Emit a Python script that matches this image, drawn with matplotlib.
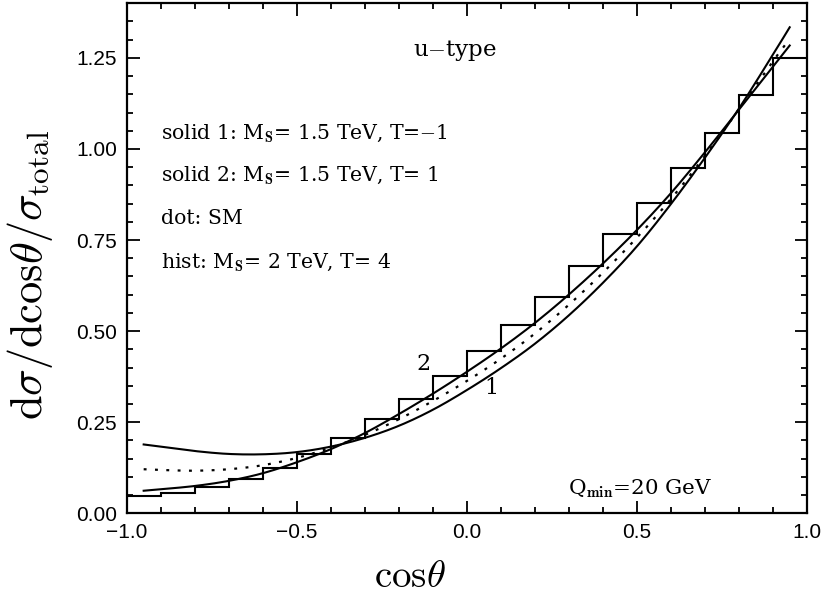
import numpy as np
import matplotlib
matplotlib.use("Agg")
import matplotlib.pyplot as plt
from matplotlib.ticker import MultipleLocator, FuncFormatter

plt.rcParams['mathtext.fontset'] = 'cm'

# histogram: M_S = 2 TeV, T = 4 (bins of 0.1 in cos theta)
hist_edges = np.round(np.arange(-1.0, 1.0001, 0.1), 2)
hist_vals = [0.048, 0.056, 0.073, 0.094, 0.125, 0.164, 0.207, 0.260,
             0.313, 0.376, 0.446, 0.517, 0.595, 0.678, 0.766, 0.852,
             0.948, 1.045, 1.149, 1.250]

# curves
cos_pts = [-0.95, -0.9, -0.8, -0.7, -0.6, -0.5, -0.4, -0.3, -0.2, -0.1,
           0.0, 0.1, 0.2, 0.3, 0.4, 0.5, 0.6, 0.7, 0.8, 0.9, 0.95]
solid1 = [0.189, 0.183, 0.171, 0.163, 0.162, 0.168, 0.183, 0.207, 0.240, 0.284,
          0.338, 0.398, 0.465, 0.543, 0.632, 0.732, 0.848, 0.975, 1.110, 1.258, 1.334]
solid2 = [0.062, 0.066, 0.075, 0.089, 0.110, 0.140, 0.176, 0.220, 0.272, 0.328,
          0.388, 0.452, 0.522, 0.600, 0.685, 0.777, 0.878, 0.990, 1.107, 1.225, 1.284]
sm_dot = [0.121, 0.119, 0.117, 0.121, 0.132, 0.152, 0.180, 0.215, 0.258, 0.308,
          0.363, 0.424, 0.493, 0.572, 0.660, 0.756, 0.862, 0.980, 1.108, 1.240, 1.302]


def smooth(x, y, n=12):
    # catmull-rom through the read points, just so the line has no kinks
    x = np.asarray(x, float)
    y = np.asarray(y, float)
    px = np.concatenate([[2 * x[0] - x[1]], x, [2 * x[-1] - x[-2]]])
    py = np.concatenate([[2 * y[0] - y[1]], y, [2 * y[-1] - y[-2]]])
    xo, yo = [], []
    t = np.linspace(0, 1, n, endpoint=False)
    for i in range(1, len(px) - 2):
        for p, out in ((px, xo), (py, yo)):
            p0, p1, p2, p3 = p[i - 1], p[i], p[i + 1], p[i + 2]
            out.extend(0.5 * (2 * p1 + (p2 - p0) * t
                              + (2 * p0 - 5 * p1 + 4 * p2 - p3) * t ** 2
                              + (3 * p1 - p0 - 3 * p2 + p3) * t ** 3))
    xo.append(x[-1])
    yo.append(y[-1])
    return xo, yo


fig = plt.figure(figsize=(8.29, 5.98), dpi=100)
ax = fig.add_axes([0.1528, 0.1416, 0.8203, 0.853])

ax.plot(*smooth(cos_pts, solid1), color='black', lw=1.5)
ax.plot(*smooth(cos_pts, solid2), color='black', lw=1.5)
ax.plot(*smooth(cos_pts, sm_dot), color='black', lw=1.6,
        linestyle=(0, (1.3, 3.8)))
ax.stairs(hist_vals, hist_edges, baseline=None, color='black', lw=1.5)

ax.set_xlim(-1, 1)
ax.set_ylim(0, 1.4)
ax.xaxis.set_major_locator(MultipleLocator(0.5))
ax.xaxis.set_minor_locator(MultipleLocator(0.1))
ax.yaxis.set_major_locator(MultipleLocator(0.25))
ax.yaxis.set_minor_locator(MultipleLocator(0.05))
ax.xaxis.set_major_formatter(FuncFormatter(lambda v, p: f'{v:.1f}'.replace('-', '\u2212')))
ax.yaxis.set_major_formatter(FuncFormatter(lambda v, p: f'{v:.2f}'.replace('-', '\u2212')))
ax.tick_params(which='both', direction='in', top=True, right=True, width=1.3)
ax.tick_params(which='major', length=9, pad=7, labelsize=15)
ax.tick_params(which='minor', length=4.5)
for lab in ax.get_xticklabels() + ax.get_yticklabels():
    lab.set_family('Liberation Sans')
for sp in ax.spines.values():
    sp.set_linewidth(1.6)

ax.set_xlabel(r'$\mathrm{cos}\theta$', fontsize=28)
ax.xaxis.set_label_coords(0.417, -0.085)
ax.set_ylabel(r'$\mathrm{d}\sigma/\mathrm{dcos}\theta/\sigma_{\mathrm{total}}$', fontsize=32)
ax.yaxis.set_label_coords(-0.105, 0.467)

tfont = dict(family='DejaVu Serif', fontsize=14.7)
ax.text(-0.034, 1.27, 'u$-$type', ha='center', va='center',
        family='DejaVu Serif', fontsize=16.5)
ax.text(-0.9, 1.043, r'solid 1: M$_\mathbf{S}$= 1.5 TeV, T=$-$1', va='center', **tfont)
ax.text(-0.9, 0.928, r'solid 2: M$_\mathbf{S}$= 1.5 TeV, T= 1', va='center', **tfont)
ax.text(-0.9, 0.809, 'dot: SM', va='center', **tfont)
ax.text(-0.9, 0.689, r'hist: M$_\mathbf{S}$= 2 TeV, T= 4', va='center', **tfont)
ax.text(0.298, 0.068, r'Q$_\mathbf{min}$=20 GeV', va='center',
        family='DejaVu Serif', fontsize=15.4)
ax.text(-0.128, 0.411, '2', ha='center', va='center', family='DejaVu Serif', fontsize=16)
ax.text(0.074, 0.343, '1', ha='center', va='center', family='DejaVu Serif', fontsize=16)

fig.savefig('out.png', dpi=100)
